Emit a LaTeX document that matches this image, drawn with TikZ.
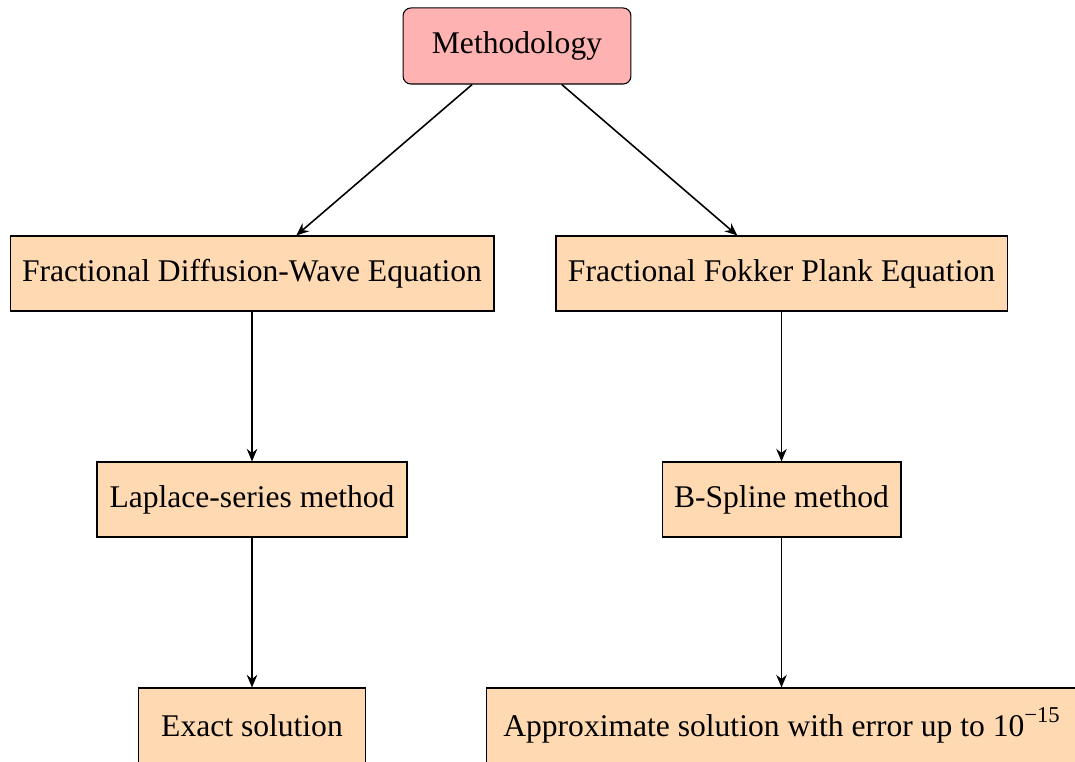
\documentclass[tikz,border=0pt]{standalone}
\usepackage{fontspec}
\setmainfont{Liberation Serif}
\usetikzlibrary{arrows.meta}
\begin{document}
\begin{tikzpicture}[x=0.38pt,y=-0.38pt,
  font=\fontsize{12}{14}\selectfont,
  box/.style={draw, fill=orange!30, minimum height=28.5pt, inner sep=2pt},
  topbox/.style={draw, fill=red!30, rounded corners=3pt, minimum height=28.9pt, inner sep=2pt},
  link/.style={semithick, -{Stealth[length=4.8pt,width=4pt,inset=1.6pt]}}]
\useasboundingbox (0,0) rectangle (1075,762);
\node[topbox, minimum width=86.6pt] (m) at (517,46) {Methodology};
\node[box, minimum width=183.9pt] (fdwe) at (252,273.5) {Fractional Diffusion-Wave Equation};
\node[box, minimum width=171.4pt] (ffpe) at (781.5,273.5) {Fractional Fokker Plank Equation};
\node[box, minimum width=117.8pt] (lap) at (252,499.5) {Laplace-series method};
\node[box, minimum width=90.8pt] (bsp) at (781.5,499.5) {B-Spline method};
\node[box, minimum width=86.6pt] (ex) at (252,725.5) {Exact solution};
\node[box, minimum width=224pt] (ap) at (781.5,725.5) {Approximate solution with error up to 10\raisebox{0.45em}{\fontsize{8.6}{10}\selectfont −15}};
\draw[link] (m) -- (fdwe);
\draw[link] (m) -- (ffpe);
\draw[link] (fdwe) -- (lap);
\draw[link] (ffpe) -- (bsp);
\draw[link] (lap) -- (ex);
\draw[link] (bsp) -- (ap);
\end{tikzpicture}
\end{document}
